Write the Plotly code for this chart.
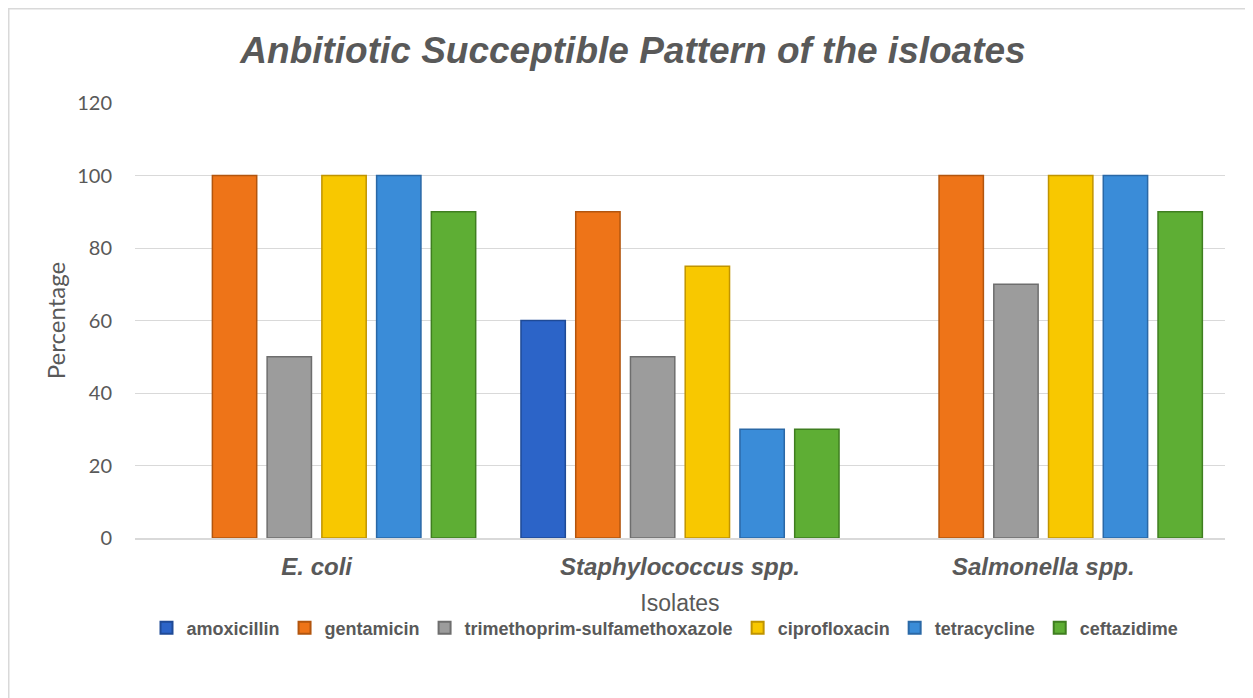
import plotly.graph_objects as go

categories = ["<i>E. coli</i>", "<i>Staphylococcus spp.</i>", "<i>Salmonella spp.</i>"]
antibiotics = ["amoxicillin", "gentamicin", "trimethoprim-sulfamethoxazole",
               "ciprofloxacin", "tetracycline", "ceftazidime"]
amoxicillin = [0, 60, 0]
gentamicin = [100, 90, 100]
trimethoprim_sulfamethoxazole = [50, 50, 70]
ciprofloxacin = [100, 75, 100]
tetracycline = [100, 30, 100]
ceftazidime = [90, 30, 90]
series_values = [amoxicillin, gentamicin, trimethoprim_sulfamethoxazole,
                 ciprofloxacin, tetracycline, ceftazidime]
y_ticks = [0, 20, 40, 60, 80, 100, 120]

fills = ["#2C64C8", "#EE7418", "#9C9C9C", "#F8C800", "#3A8CD8", "#5EAE34"]
edges = ["#1F4A96", "#B2550E", "#6E6E6E", "#C09400", "#2A68A6", "#3F7E20"]

# page body has an 8px margin: figure is sized/positioned to compensate
W, H = 1245, 690
L, R, T, B = 127, 28, 95, 160
PW, PH = W - L - R, H - T - B

fig = go.Figure()
for name, vals, fc, ec in zip(antibiotics, series_values, fills, edges):
    fig.add_trace(go.Bar(
        name=name, x=categories, y=vals,
        marker=dict(color=fc, line=dict(color=ec, width=[1.5 if v > 0 else 0 for v in vals])),
    ))

fig.update_layout(
    width=W, height=H,
    barmode="group", bargap=0.096, bargroupgap=0.19,
    plot_bgcolor="white", paper_bgcolor="white",
    margin=dict(l=L, r=R, t=T, b=B),
    title=dict(text="<b><i>Anbitiotic Succeptible Pattern of the isloates</i></b>",
               x=(633 - 8) / W, xref="container", xanchor="center",
               y=1 - 42 / H, yref="container", yanchor="middle",
               font=dict(family="Liberation Sans, Arial", size=37, color="#595959")),
    xaxis=dict(
        title=dict(text="Isolates", font=dict(family="Liberation Sans, Arial", size=23, color="#595959"),
                   standoff=16),
        tickfont=dict(family="Liberation Sans, Arial", size=24, color="#595959"),
        tickprefix="<b>", ticksuffix="</b>",
        showline=True, linecolor="#D9D9D9", linewidth=1.5,
        ticks="", ticklen=0, ticklabelstandoff=6,
    ),
    yaxis=dict(
        title=dict(text="Percentage", font=dict(family="Lato, Liberation Sans", size=24, color="#595959"),
                   standoff=4),
        tickfont=dict(family="Lato, Liberation Sans", size=20, color="#595959"),
        range=[0, 120], tickvals=y_ticks, ticklabelstandoff=22,
        showgrid=True, gridcolor="#D9D9D9", gridwidth=1,
        zeroline=False, showline=False,
    ),
    legend=dict(orientation="h", x=(665 - 135) / PW, xanchor="center",
                y=(538 - 628) / PH, yanchor="middle",
                font=dict(family="Liberation Sans, Arial", size=18, color="#595959", weight="bold"),
                itemwidth=30, tracegroupgap=0, itemsizing="constant"),
    shapes=[dict(type="rect", xref="paper", yref="paper",
                 x0=(8.75 - 135) / PW, x1=(1262 - 135) / PW,
                 y0=(538 - 710) / PH, y1=1 + (103 - 8.75) / PH,
                 line=dict(color="#D9D9D9", width=1.5), layer="below")],
)

fig.write_html("out.html")
